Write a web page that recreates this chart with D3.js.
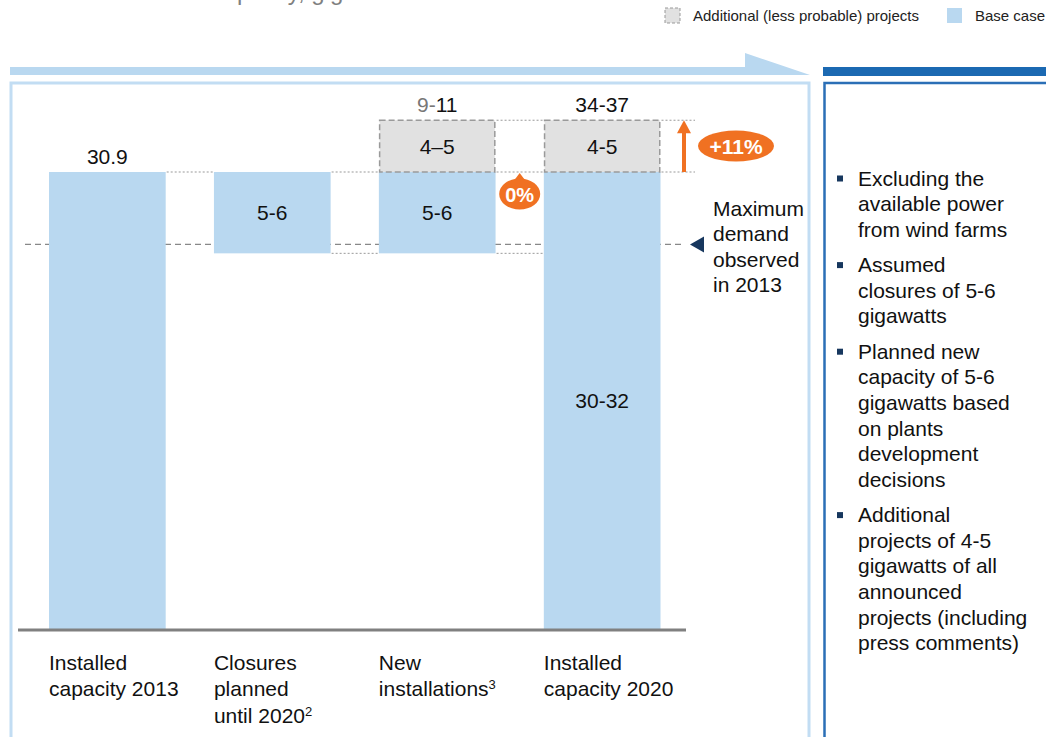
<!DOCTYPE html>
<html>
<head>
<meta charset="utf-8">
<script src="https://cdn.jsdelivr.net/npm/d3@7"></script>
<style>
  body { margin: 0; background: #fff; }
  svg { display: block; font-family: "Liberation Sans", Arial, sans-serif; }
</style>
</head>
<body>
<div id="chart"></div>
<script>
// Data
var categories = ["Installed capacity 2013", "Closures planned until 2020", "New installations", "Installed capacity 2020"];
var catLines = [["Installed", "capacity 2013"], ["Closures", "planned", "until 2020|2"], ["New", "installations|3"], ["Installed", "capacity 2020"]];
var baseValues = [30.9, -5.5, 5.5, 30.9];   // base case (waterfall steps, first and last are totals)
var extraValues = [0, 0, 3.5, 3.5];         // additional (less probable) projects, as drawn
var baseLabels = ["", "5-6", "5-6", "30-32"];
var extraLabels = ["", "", "4\u20135", "4-5"];
var topLabels = ["30.9", "", "9-11", "34-37"];
var maxDemand = 26.0;
var bullets = [
  ["Excluding the", "available power", "from wind farms"],
  ["Assumed", "closures of 5-6", "gigawatts"],
  ["Planned new", "capacity of 5-6", "gigawatts based", "on plants", "development", "decisions"],
  ["Additional", "projects of 4-5", "gigawatts of all", "announced", "projects (including", "press comments)"]
];

var W = 1046, H = 737;
var blue = "#b9d8f0", grey = "#e1e1e1", orange = "#f07122";

var svg = d3.select("#chart").append("svg").attr("width", W).attr("height", H);

// title, cut off at the top edge as in the source
svg.append("text").attr("x", 108).attr("y", -0.5).attr("font-size", 24).attr("fill", "#808080")
  .text("Available capacity, gigawatts");

// legend
svg.append("rect").attr("x", 665).attr("y", 8).attr("width", 15).attr("height", 15)
  .attr("fill", grey).attr("stroke", "#999").attr("stroke-dasharray", "3,2");
svg.append("text").attr("x", 693).attr("y", 21).attr("font-size", 15).attr("fill", "#222")
  .text("Additional (less probable) projects");
svg.append("rect").attr("x", 947).attr("y", 8).attr("width", 15).attr("height", 15).attr("fill", blue);
svg.append("text").attr("x", 975).attr("y", 21).attr("font-size", 15).attr("fill", "#222").text("Base case");

// header bands and panels
svg.append("path").attr("d", "M10,67 L745,67 L745,53 L810,75 L10,75 Z").attr("fill", "#b9d8f0");
svg.append("rect").attr("x", 823).attr("y", 67).attr("width", 223).attr("height", 9).attr("fill", "#1b69b2");
svg.append("rect").attr("x", 11).attr("y", 83).attr("width", 798).attr("height", 700)
  .attr("fill", "none").attr("stroke", "#c2ddf3").attr("stroke-width", 3);
svg.append("rect").attr("x", 824.5).attr("y", 83).attr("width", 260).attr("height", 700)
  .attr("fill", "none").attr("stroke", "#2b6fb6").attr("stroke-width", 2.5);

// scales
var y = d3.scaleLinear().domain([0, 30.9]).range([629, 172]);
var x = d3.scaleBand().domain(categories).range([49, 660.5]).paddingInner(0.2925).paddingOuter(0);
var bw = x.bandwidth();

// waterfall layout
var bars = [];
var level = 0;
categories.forEach(function(c, i) {
  var lo, hi;
  if (i === 0 || i === categories.length - 1) { lo = 0; hi = baseValues[i]; level = hi; }
  else if (baseValues[i] < 0) { hi = level; lo = level + baseValues[i]; level = lo; }
  else { lo = level; hi = level + baseValues[i]; level = hi; }
  bars.push({ cat: c, i: i, lo: lo, hi: hi, extra: extraValues[i] });
});

// max demand dashed line
svg.append("line").attr("x1", 25).attr("x2", 683).attr("y1", y(maxDemand)).attr("y2", y(maxDemand))
  .attr("stroke", "#888").attr("stroke-dasharray", "6,4").attr("stroke-width", 1.2);

// base bars
svg.selectAll("rect.base").data(bars).enter().append("rect").attr("class", "base")
  .attr("x", function(d) { return x(d.cat); })
  .attr("y", function(d) { return y(d.hi); })
  .attr("width", bw)
  .attr("height", function(d) { return y(d.lo) - y(d.hi); })
  .attr("fill", blue);

// additional (dashed) boxes
svg.selectAll("rect.extra").data(bars.filter(function(d) { return d.extra > 0; })).enter().append("rect")
  .attr("class", "extra")
  .attr("x", function(d) { return x(d.cat) + 0.75; })
  .attr("y", function(d) { return y(d.hi + d.extra); })
  .attr("width", bw - 1.5)
  .attr("height", function(d) { return y(d.hi) - y(d.hi + d.extra); })
  .attr("fill", grey).attr("stroke", "#9a9a9a").attr("stroke-width", 1.5).attr("stroke-dasharray", "6,3");

// connectors
var conn = [];
for (var i = 0; i < bars.length - 1; i++) {
  var a = bars[i], b = bars[i + 1];
  var x1 = x(a.cat) + bw + 1, x2 = x(b.cat) - 1;
  conn.push({ x1: x1, x2: x2, v: a.hi });
  if (a.lo > 0) conn.push({ x1: x1, x2: x2, v: a.lo });
  if (a.extra > 0) conn.push({ x1: x1, x2: x2, v: a.hi + a.extra });
}
var last = bars[bars.length - 1];
conn.push({ x1: x(last.cat) + bw + 1, x2: 695, v: last.hi });
conn.push({ x1: x(last.cat) + bw + 1, x2: 695, v: last.hi + last.extra });
svg.selectAll("line.conn").data(conn).enter().append("line").attr("class", "conn")
  .attr("x1", function(d) { return d.x1; }).attr("x2", function(d) { return d.x2; })
  .attr("y1", function(d) { return y(d.v); }).attr("y2", function(d) { return y(d.v); })
  .attr("stroke", "#999").attr("stroke-width", 1).attr("stroke-dasharray", "2,2");

// baseline
svg.append("line").attr("x1", 18).attr("x2", 686).attr("y1", 630).attr("y2", 630)
  .attr("stroke", "#808080").attr("stroke-width", 3);

// labels inside bars
var fs = 21;
svg.selectAll("text.bl").data(bars).enter().append("text").attr("class", "bl")
  .attr("x", function(d) { return x(d.cat) + bw / 2; })
  .attr("y", function(d) { return (y(d.lo) + y(d.hi)) / 2 + 7.5; })
  .attr("text-anchor", "middle").attr("font-size", fs).attr("fill", "#111")
  .text(function(d) { return d.i === 0 ? "" : baseLabels[d.i]; });
svg.selectAll("text.el").data(bars.filter(function(d) { return d.extra > 0; })).enter().append("text").attr("class", "el")
  .attr("x", function(d) { return x(d.cat) + bw / 2; })
  .attr("y", function(d) { return (y(d.hi) + y(d.hi + d.extra)) / 2 + 7.5; })
  .attr("text-anchor", "middle").attr("font-size", fs).attr("fill", "#111")
  .text(function(d) { return extraLabels[d.i]; });

// totals on top
bars.forEach(function(d) {
  if (!topLabels[d.i]) return;
  var t = svg.append("text").attr("x", x(d.cat) + bw / 2).attr("y", y(d.hi + d.extra) - 8)
    .attr("text-anchor", "middle").attr("font-size", fs).attr("fill", "#111");
  if (topLabels[d.i] === "9-11") {
    t.append("tspan").attr("fill", "#777").text("9-");
    t.append("tspan").text("11");
  } else t.text(topLabels[d.i]);
});

// category labels
catLines.forEach(function(lines, i) {
  var t = svg.append("text").attr("x", x(categories[i])).attr("y", 670).attr("font-size", fs).attr("fill", "#111");
  lines.forEach(function(l, j) {
    var parts = l.split("|");
    t.append("tspan").attr("x", x(categories[i])).attr("y", 670 + j * 26.3).text(parts[0]);
    if (parts[1]) t.append("tspan").attr("dy", -7).attr("font-size", 13).text(parts[1]);
  });
});

// 0% badge
var zx = (x(categories[2]) + bw + x(categories[3])) / 2, zy = y(30.9) + 22;
svg.append("path").attr("d", "M" + (zx - 6) + "," + (zy - 13) + " L" + zx + "," + (zy - 21) + " L" + (zx + 6) + "," + (zy - 13) + " Z").attr("fill", orange);
svg.append("ellipse").attr("cx", zx).attr("cy", zy).attr("rx", 20.5).attr("ry", 15.5).attr("fill", orange);
svg.append("text").attr("x", zx).attr("y", zy + 7.5).attr("text-anchor", "middle").attr("font-size", 20)
  .attr("font-weight", "bold").attr("fill", "#fff").text("0%");

// +11% arrow and badge
var ax = 684;
svg.append("line").attr("x1", ax).attr("x2", ax).attr("y1", y(30.9)).attr("y2", y(34.4) + 12)
  .attr("stroke", orange).attr("stroke-width", 4);
svg.append("path").attr("d", "M" + (ax - 7) + "," + (y(34.4) + 13) + " L" + ax + "," + y(34.4) + " L" + (ax + 7) + "," + (y(34.4) + 13) + " Z").attr("fill", orange);
svg.append("ellipse").attr("cx", 736).attr("cy", 146).attr("rx", 38).attr("ry", 15.5).attr("fill", orange);
svg.append("text").attr("x", 736).attr("y", 154).attr("text-anchor", "middle").attr("font-size", 21)
  .attr("font-weight", "bold").attr("fill", "#fff").text("+11%");

// max demand marker
var my = y(maxDemand);
svg.append("path").attr("d", "M690," + my + " L704," + (my - 8) + " L704," + (my + 8) + " Z").attr("fill", "#17375e");
var mt = svg.append("text").attr("font-size", fs).attr("fill", "#111");
["Maximum", "demand", "observed", "in 2013"].forEach(function(l, j) {
  mt.append("tspan").attr("x", 713).attr("y", 215.5 + j * 25.6).text(l);
});

// right panel bullets
var by = 185.5;
bullets.forEach(function(lines) {
  svg.append("rect").attr("x", 837).attr("y", by - 10).attr("width", 6).attr("height", 6).attr("fill", "#17375e");
  var t = svg.append("text").attr("font-size", fs).attr("fill", "#111");
  lines.forEach(function(l, j) {
    t.append("tspan").attr("x", 858).attr("y", by + j * 25.6).text(l);
  });
  by += lines.length * 25.6 + 9.8;
});
</script>
</body>
</html>
